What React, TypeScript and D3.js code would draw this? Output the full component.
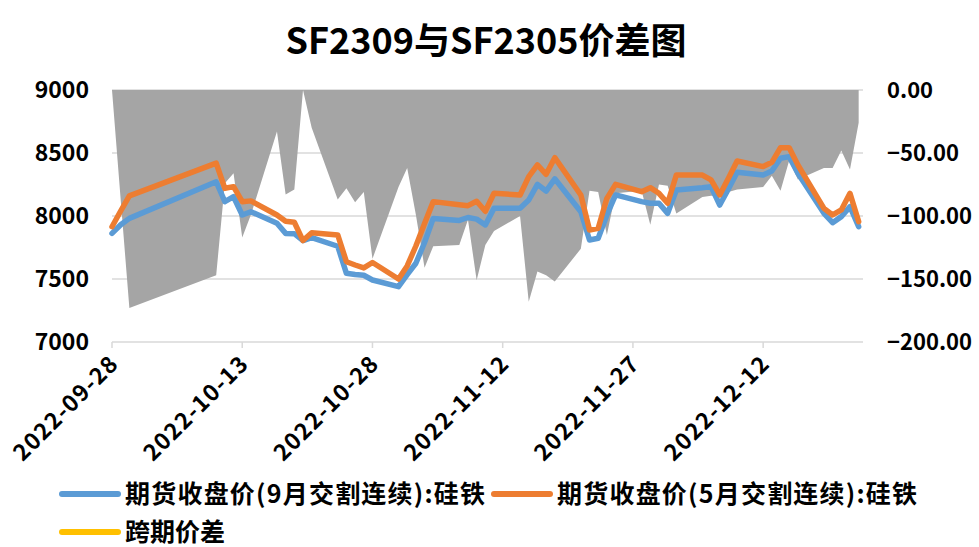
import React from "react";
import * as d3 from "d3";

// trading days shown on the chart
const dates = [
  "2022-09-28", "2022-09-29", "2022-09-30",
  "2022-10-10", "2022-10-11", "2022-10-12", "2022-10-13", "2022-10-14",
  "2022-10-17", "2022-10-18", "2022-10-19", "2022-10-20", "2022-10-21",
  "2022-10-24", "2022-10-25", "2022-10-26", "2022-10-27", "2022-10-28",
  "2022-10-31", "2022-11-01", "2022-11-02", "2022-11-03", "2022-11-04",
  "2022-11-07", "2022-11-08", "2022-11-09", "2022-11-10", "2022-11-11",
  "2022-11-14", "2022-11-15", "2022-11-16", "2022-11-17", "2022-11-18",
  "2022-11-21", "2022-11-22", "2022-11-23", "2022-11-24", "2022-11-25",
  "2022-11-28", "2022-11-29", "2022-11-30", "2022-12-01", "2022-12-02",
  "2022-12-05", "2022-12-06", "2022-12-07", "2022-12-08", "2022-12-09",
  "2022-12-12", "2022-12-13", "2022-12-14", "2022-12-15", "2022-12-16",
  "2022-12-19", "2022-12-20", "2022-12-21", "2022-12-22", "2022-12-23",
];

// 期货收盘价(9月交割连续):硅铁
const sepClose = [
  7862, 7930, 7981,
  8272, 8114, 8153, 8008, 8034,
  7942, 7862, 7860, 7805, 7828,
  7760, 7545, 7536, 7530, 7492,
  7439, 7535, 7625, 7790, 7981,
  7965, 7988, 7975, 7929, 8061,
  8061, 8127, 8251, 8198, 8295,
  8034, 7810, 7823, 8008, 8167,
  8114, 8101, 8101, 8021, 8206,
  8225, 8233, 8087, 8214, 8347,
  8325, 8357, 8458, 8471, 8339,
  8021, 7947, 7995, 8074, 7915,
];

// 期货收盘价(5月交割连续):硅铁
const mayClose = [
  7915, 8040, 8160,
  8420, 8220, 8233, 8114, 8120,
  8008, 7958, 7950, 7805, 7867,
  7850, 7637, 7611, 7588, 7631,
  7500, 7604, 7762, 7940, 8114,
  8089, 8082, 8117, 8038, 8180,
  8167, 8312, 8405, 8331, 8463,
  8167, 7889, 7902, 8140, 8251,
  8193, 8225, 8180, 8101, 8325,
  8325, 8286, 8167, 8299, 8437,
  8392, 8426, 8542, 8542, 8405,
  8061, 8008, 8048, 8180, 7955,
];

// 跨期价差
const spread = [
  0, -87, -173,
  -147, -74, -66, -117, -99,
  -33, -83, -79, 0, -30,
  -87, -78, -89, -81, -134,
  -77, -62, -99, -141, -124,
  -123, -103, -151, -123, -112,
  -100, -168, -144, -147, -152,
  -126, -80, -81, -115, -82,
  -80, -107, -75, -76, -98,
  -85, -84, -84, -81, -79,
  -77, -68, -80, -56, -71,
  -62, -62, -48, -63, -26,
];

const leftTicks = [7000, 7500, 8000, 8500, 9000];
const rightTicks = [0, -50, -100, -150, -200];
const xTickLabels = ["2022-09-28", "2022-10-13", "2022-10-28", "2022-11-12", "2022-11-27", "2022-12-12"];

const FONT = "'Noto Sans CJK SC', 'Noto Sans', sans-serif";

export default function App() {
  const W = 979;
  const H = 547;
  const left = 112, right = 863, top = 90, bottom = 342;

  const parse = d3.timeParse("%Y-%m-%d");
  const x = d3
    .scaleTime()
    .domain([parse("2022-09-28"), d3.timeHour.offset(parse("2022-12-23"), 12)])
    .range([left, right]);
  const yL = d3.scaleLinear().domain([7000, 9000]).range([bottom, top]);
  const yR = d3.scaleLinear().domain([-200, 0]).range([bottom, top]);

  const rows = dates.map((d, i) => ({
    date: parse(d),
    sep: sepClose[i],
    may: mayClose[i],
    spread: spread[i],
  }));

  const area = d3
    .area<any>()
    .x((d) => x(d.date))
    .y0(yR(0))
    .y1((d) => yR(d.spread));
  const sepLine = d3.line<any>().x((d) => x(d.date)).y((d) => yL(d.sep));
  const mayLine = d3.line<any>().x((d) => x(d.date)).y((d) => yL(d.may));

  // legend: swatch start, text width
  const legend = [
    { label: "期货收盘价(9月交割连续):硅铁", color: "#5B9BD5", x: 62, y: 494, w: 360 },
    { label: "期货收盘价(5月交割连续):硅铁", color: "#ED7D31", x: 494, y: 494, w: 360 },
    { label: "跨期价差", color: "#FFC000", x: 62, y: 532, w: 0 },
  ];

  return (
    <svg
      width={W}
      height={H}
      style={{ position: "absolute", left: 0, top: 0, background: "#fff" }}
      fontFamily={FONT}
    >
      <text x={486} y={54} textAnchor="middle" fontSize={36} fontWeight="bold" fill="#000">
        SF2309与SF2305价差图
      </text>

      {/* gridlines */}
      {leftTicks.map((t) => (
        <line key={t} x1={left} x2={right} y1={yL(t)} y2={yL(t)} stroke="#d9d9d9" strokeWidth={1.5} />
      ))}
      {xTickLabels.map((t) => (
        <line key={t} x1={x(parse(t))} x2={x(parse(t))} y1={bottom} y2={bottom + 6} stroke="#d9d9d9" strokeWidth={1.5} />
      ))}

      <path d={area(rows) || ""} fill="#A5A5A5" />
      <path d={sepLine(rows) || ""} fill="none" stroke="#5B9BD5" strokeWidth={5.5} strokeLinejoin="round" strokeLinecap="round" />
      <path d={mayLine(rows) || ""} fill="none" stroke="#ED7D31" strokeWidth={5.5} strokeLinejoin="round" strokeLinecap="round" />

      {/* left axis */}
      {leftTicks.map((t) => (
        <text key={t} x={89} y={yL(t) + 8} textAnchor="end" fontSize={23} fontWeight="bold">
          {t}
        </text>
      ))}
      {/* right axis */}
      {rightTicks.map((t) => (
        <text key={t} x={887} y={yR(t) + 8} textAnchor="start" fontSize={22} fontWeight="bold">
          {d3.format(".2f")(t)}
        </text>
      ))}
      {/* x axis labels */}
      {xTickLabels.map((t) => {
        const px = x(parse(t)) + 8;
        const py = bottom + 23;
        return (
          <text
            key={t}
            x={px}
            y={py}
            textAnchor="end"
            fontSize={23}
            fontWeight="bold"
            letterSpacing={1.2}
            transform={`rotate(-45 ${px} ${py})`}
          >
            {t}
          </text>
        );
      })}

      {/* legend */}
      {legend.map((l) => (
        <g key={l.label}>
          <line x1={l.x} x2={l.x + 56} y1={l.y} y2={l.y} stroke={l.color} strokeWidth={6} strokeLinecap="round" />
          <text
            x={l.x + 63}
            y={l.y + 9}
            fontSize={25}
            fontWeight="bold"
            {...(l.w ? { textLength: l.w, lengthAdjust: "spacing" } : {})}
          >
            {l.label}
          </text>
        </g>
      ))}
    </svg>
  );
}
